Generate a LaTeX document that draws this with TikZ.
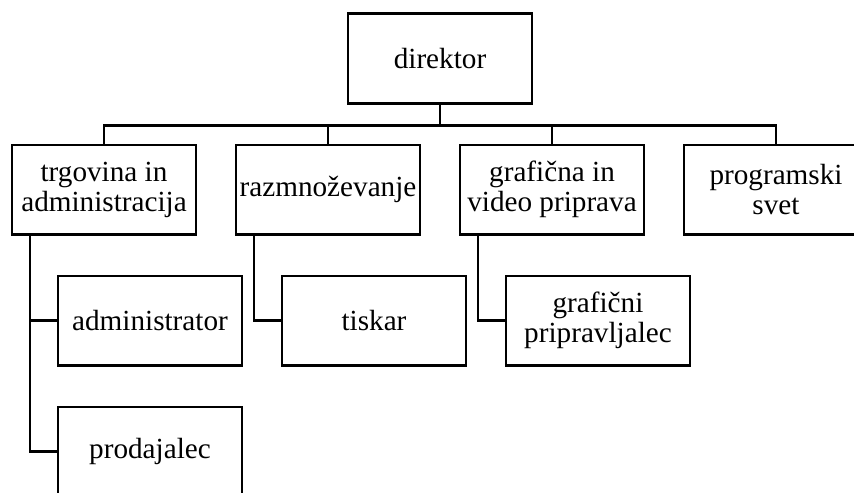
\documentclass[tikz,border=0pt]{standalone}
\usepackage{fontspec}
\setmainfont{Liberation Serif}
\usetikzlibrary{positioning}

\begin{document}
\begin{tikzpicture}[ x=0.5pt , y=-0.5pt , node distance = 65.5pt and 112pt , on grid , line width=1.2pt ,
  dept/.style = { draw , rectangle , minimum width=91.8pt , minimum height=44.8pt , inner xsep=1pt , align=center , font=\fontsize{14.6}{15}\selectfont } ]
\useasboundingbox (0,0) rectangle (854,492);
\node [ dept ] (dir) at (440,58.5) {direktor};
\node [ dept ] (trg) at (104,189.5) {trgovina in\\administracija};
\node [ dept ] (raz) [ right = of trg ] {razmnoževanje};
\node [ dept ] (gvp) [ right = of raz ] {grafična in\\video priprava};
\node [ dept ] (prs) [ right = of gvp ] {programski\\svet};
\node [ dept ] (adm) [ below right = 65.5pt and 23pt of trg ] {administrator};
\node [ dept ] (pro) [ below = of adm ] {prodajalec};
\node [ dept ] (tis) [ below right = 65.5pt and 23pt of raz ] {tiskar};
\node [ dept ] (gpr) [ below right = 65.5pt and 23pt of gvp ] {grafični\\pripravljalec};
\coordinate [ below = 10.5pt of dir.south ] (bus);
\foreach \n in {trg,raz,gvp,prs}
  \draw (dir.south) -- (bus) -| (\n.north);
\draw ([xshift=9.5pt]trg.south west) |- (adm.west)
      ([xshift=9.5pt]trg.south west) |- (pro.west);
\draw ([xshift=9.5pt]raz.south west) |- (tis.west);
\draw ([xshift=9.5pt]gvp.south west) |- (gpr.west);
\end{tikzpicture}
\end{document}
